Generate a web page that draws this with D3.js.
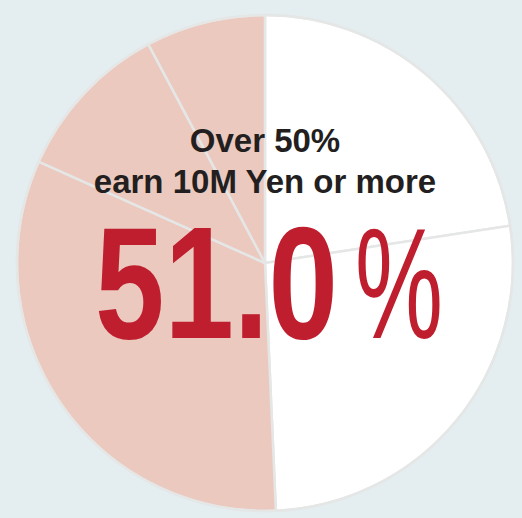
<!DOCTYPE html>
<html>
<head>
<meta charset="utf-8">
<script src="https://cdn.jsdelivr.net/npm/d3@7"></script>
<style>
  html, body { margin: 0; padding: 0; background: #e4eef1; }
</style>
</head>
<body>
<div id="chart"></div>
<script>
// share of respondents by income band, clockwise from 12 o'clock
var bands = ["<8M", "8M-10M", "10M-15M", "15M-20M", "20M+"];
var shares = [22.6, 26.7, 32.4, 10.5, 7.8];
var fills = ["#ffffff", "#ffffff", "#ebc9bf", "#ebc9bf", "#ebc9bf"];
var titleLines = ["Over 50%", "earn 10M Yen or more"];
var bigNumber = "51.0";

var width = 522, height = 518;
var cx = 265, cy = 263, radius = 248;

var svg = d3.select("#chart")
  .append("svg")
    .attr("width", width)
    .attr("height", height)
    .style("display", "block");

svg.append("rect")
  .attr("width", width)
  .attr("height", height)
  .attr("fill", "#e4eef1");

var g = svg.append("g")
  .attr("transform", "translate(" + cx + "," + cy + ")");

var data = bands.map(function(b, i) { return {band: b, value: shares[i], fill: fills[i]}; });

var pie = d3.pie()
  .sort(null)
  .value(function(d) { return d.value; });

var arc = d3.arc()
  .innerRadius(0)
  .outerRadius(radius);

g.selectAll("path.slice")
  .data(pie(data))
  .enter()
  .append("path")
    .attr("class", "slice")
    .attr("d", arc)
    .attr("fill", function(d) { return d.data.fill; })
    .attr("stroke", "#e5e6e6")
    .attr("stroke-width", 2.5)
    .attr("stroke-linejoin", "round");

// outer rim
g.append("circle")
  .attr("r", radius)
  .attr("fill", "none")
  .attr("stroke", "#e5e6e6")
  .attr("stroke-width", 2.5);

// heading
svg.selectAll("text.title")
  .data(titleLines)
  .enter()
  .append("text")
    .attr("class", "title")
    .attr("x", cx)
    .attr("y", function(d, i) { return 152 + i * 41; })
    .attr("text-anchor", "middle")
    .attr("font-family", "'Liberation Sans', Arial, sans-serif")
    .attr("font-weight", "bold")
    .attr("font-size", 33)
    .attr("fill", "#231f20")
    .text(function(d) { return d; });

// big figure, squeezed horizontally to the narrow face of the original
function squeezed(txt, x, weight, size, targetW) {
  var t = svg.append("g")
    .append("text")
      .attr("font-family", "'Liberation Sans', Arial, sans-serif")
      .attr("font-weight", weight)
      .attr("font-size", size)
      .attr("fill", "#be1e2d")
      .text(txt);
  var w = t.node().getComputedTextLength();
  d3.select(t.node().parentNode)
    .attr("transform", "translate(" + x + ",338) scale(" + (targetW / w) + ",1)");
}

squeezed(bigNumber, 95, "bold", 160, 243);
squeezed("%", 355, "normal", 158, 88);
</script>
</body>
</html>
